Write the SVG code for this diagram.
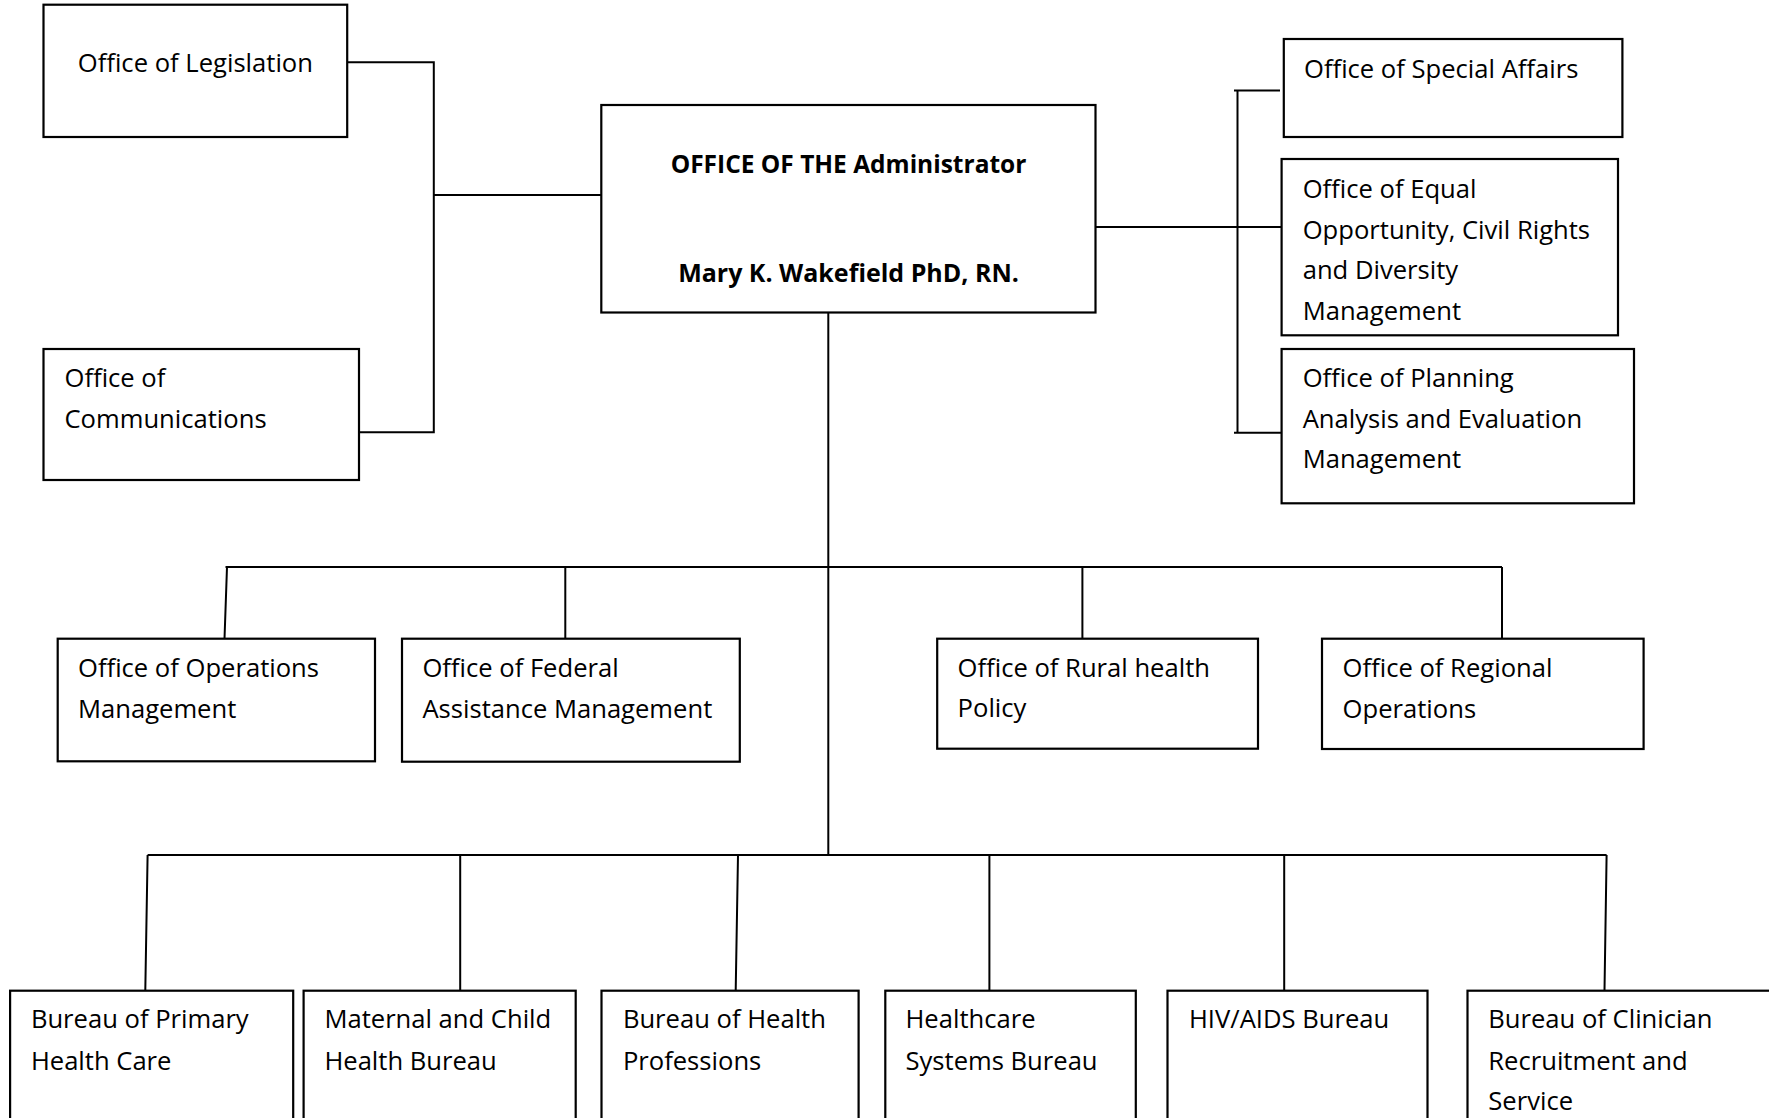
<svg xmlns="http://www.w3.org/2000/svg" width="1769" height="1118" viewBox="0 0 1769 1118">
<style>
rect{fill:#fff;stroke:#000;stroke-width:2.2}
.c path{fill:none;stroke:#000;stroke-width:2}
text{font-family:"Open Sans","Noto Sans","Liberation Sans",sans-serif;font-size:25.6px;fill:#000}
.b{font-weight:bold;font-size:24.5px;text-anchor:middle}
.b2{font-size:25px}
</style>
<rect x="0" y="0" width="1769" height="1118" style="stroke:none"/>
<g class="c" id="connectors">
<path d="M347,62.3 H433.8 V432.3 H359 M433.8,195 H601.3"/>
<path d="M1095.5,227 H1281.6 M1237.5,90.5 V432.7 M1234,90.5 H1280 M1234,432.7 H1281.6"/>
<path d="M828.3,312.5 V855"/>
<path d="M225.5,567 H1502 M227,567 L224.5,638.7 M565.3,567 V638.7 M1082.4,567 V638.7 M1502,567 V638.7"/>
<path d="M147.6,855 H1606.6 M147.6,855 L145.3,990.7 M460.2,855 V990.7 M738,855 L735.7,990.7 M989.4,855 V990.7 M1284.2,855 V990.7 M1606.6,855 L1604.5,990.7"/>
</g>
<g id="legislation"><rect x="43.5" y="4.7" width="303.7" height="132.3"/><text x="77.8" y="71.7">Office of Legislation</text></g>
<g id="communications"><rect x="43.5" y="349" width="315.5" height="131"/><text x="64.5" y="386.7">Office of</text><text x="64.5" y="428.3">Communications</text></g>
<g id="administrator"><rect x="601.3" y="105" width="494.2" height="207.5"/><text class="b" x="848.5" y="173">OFFICE OF THE Administrator</text><text class="b b2" x="848.5" y="281.7">Mary K. Wakefield PhD, RN.</text></g>
<g id="special-affairs"><rect x="1283.8" y="39" width="338.6" height="98"/><text x="1304" y="78.3">Office of Special Affairs</text></g>
<g id="equal-opportunity"><rect x="1281.6" y="159" width="336.4" height="176.3"/><text x="1302.7" y="198.3">Office of Equal</text><text x="1302.7" y="238.8">Opportunity, Civil Rights</text><text x="1302.7" y="279.3">and Diversity</text><text x="1302.7" y="320">Management</text></g>
<g id="planning"><rect x="1281.6" y="349" width="352.4" height="154.3"/><text x="1302.7" y="386.7">Office of Planning</text><text x="1302.7" y="427.5">Analysis and Evaluation</text><text x="1302.7" y="468.3">Management</text></g>
<g id="operations"><rect x="57.7" y="638.7" width="317.3" height="122.6"/><text x="78" y="676.7">Office of Operations</text><text x="78" y="718">Management</text></g>
<g id="federal-assistance"><rect x="402" y="638.7" width="337.8" height="123"/><text x="422.4" y="676.7">Office of Federal</text><text x="422.4" y="718">Assistance Management</text></g>
<g id="rural-health"><rect x="937.2" y="638.7" width="320.8" height="110"/><text x="957.6" y="676.7">Office of Rural health</text><text x="957.6" y="717">Policy</text></g>
<g id="regional-operations"><rect x="1322" y="638.7" width="321.6" height="110.3"/><text x="1342.6" y="676.7">Office of Regional</text><text x="1342.6" y="718">Operations</text></g>
<g id="primary-health"><rect x="10.1" y="990.7" width="283.1" height="200"/><text x="30.9" y="1028.3">Bureau of Primary</text><text x="30.9" y="1070">Health Care</text></g>
<g id="maternal-child"><rect x="303.6" y="990.7" width="272.1" height="200"/><text x="324.4" y="1028.3">Maternal and Child</text><text x="324.4" y="1070">Health Bureau</text></g>
<g id="health-professions"><rect x="601.5" y="990.7" width="257.1" height="200"/><text x="622.9" y="1028.3">Bureau of Health</text><text x="622.9" y="1070">Professions</text></g>
<g id="healthcare-systems"><rect x="885.3" y="990.7" width="250.5" height="200"/><text x="905.5" y="1028.3">Healthcare</text><text x="905.5" y="1070">Systems Bureau</text></g>
<g id="hiv-aids"><rect x="1167.5" y="990.7" width="260" height="200"/><text x="1189" y="1028.3">HIV/AIDS Bureau</text></g>
<g id="clinician-recruitment"><rect x="1467.5" y="990.7" width="340" height="200"/><text x="1488.3" y="1028.3">Bureau of Clinician</text><text x="1488.3" y="1070">Recruitment and</text><text x="1488.3" y="1110">Service</text></g>
</svg>
